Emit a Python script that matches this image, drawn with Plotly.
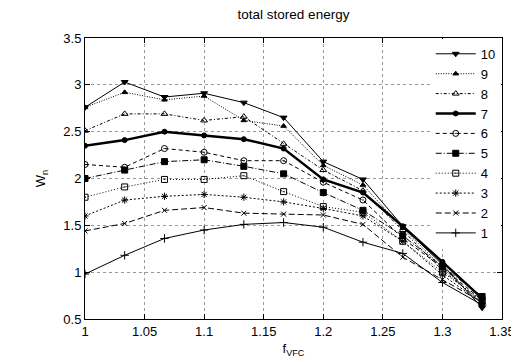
import plotly.graph_objects as go

f_vfc = [1.0, 1.0333, 1.0667, 1.1, 1.1333, 1.1667, 1.2, 1.2333, 1.2667, 1.3, 1.3333]

w1 = [0.98, 1.18, 1.36, 1.45, 1.51, 1.53, 1.48, 1.32, 1.20, 0.89, 0.65]
w2 = [1.44, 1.52, 1.66, 1.69, 1.63, 1.62, 1.61, 1.51, 1.16, 0.92, 0.68]
w3 = [1.60, 1.77, 1.81, 1.83, 1.80, 1.75, 1.68, 1.60, 1.33, 0.97, 0.67]
w4 = [1.80, 1.91, 1.99, 1.99, 2.03, 1.86, 1.70, 1.64, 1.33, 1.00, 0.70]
w5 = [2.00, 2.09, 2.18, 2.20, 2.13, 2.05, 1.85, 1.66, 1.39, 1.06, 0.74]
w6 = [2.15, 2.12, 2.32, 2.28, 2.19, 2.19, 1.96, 1.77, 1.36, 1.05, 0.70]
w7 = [2.35, 2.41, 2.50, 2.46, 2.42, 2.32, 1.99, 1.85, 1.49, 1.11, 0.72]
w8 = [2.51, 2.69, 2.69, 2.62, 2.66, 2.37, 2.09, 1.87, 1.45, 1.02, 0.68]
w9 = [2.76, 2.92, 2.84, 2.88, 2.62, 2.56, 2.14, 1.93, 1.47, 1.05, 0.66]
w10 = [2.76, 3.03, 2.87, 2.91, 2.81, 2.65, 2.18, 1.99, 1.49, 1.08, 0.62]

names = ["1", "2", "3", "4", "5", "6", "7", "8", "9", "10"]
series = [w1, w2, w3, w4, w5, w6, w7, w8, w9, w10]
symbols = ["cross-thin-open", "x-thin-open", "asterisk-open", "square-open-dot",
           "square", "circle-open-dot", "circle", "triangle-up-open",
           "triangle-up", "triangle-down"]
dashes = ["solid", "6px,3px", "2px,2px", "1px,2px", "6px,2px,1px,2px",
          "4px,3px", "solid", "3px,2px,1px,2px", "1px,1.5px", "solid"]
widths = [1, 1, 1, 1, 1, 1, 2.5, 1, 1, 1]
msizes = [6, 5, 6, 6, 6, 6, 5, 6, 5, 6]

fig = go.Figure()
for name, ys, sym, d, w, ms in zip(names, series, symbols, dashes, widths, msizes):
    fig.add_trace(go.Scatter(
        x=f_vfc, y=ys, name=name, mode="lines+markers",
        line=dict(color="black", width=w, dash=d),
        marker=dict(symbol=sym, size=ms, color="black",
                    line=dict(color="black", width=1)),
    ))

axis_common = dict(
    showline=True, linecolor="black", linewidth=1, mirror="ticks",
    ticks="inside", ticklen=5, tickcolor="black",
    showgrid=True, gridcolor="#999999", griddash="dot", gridwidth=1,
    zeroline=False, tickfont=dict(size=13, color="black"),
)

fig.update_layout(
    width=519, height=362,
    margin=dict(l=77, r=15, t=30, b=51),
    paper_bgcolor="white", plot_bgcolor="white",
    font=dict(family="Liberation Sans, Arial, sans-serif", color="black"),
    title=dict(text="total stored energy", xref="paper", x=0.5, xanchor="center",
               yref="container", y=0.997, yanchor="top", font=dict(size=13.5)),
    xaxis=dict(range=[1.0, 1.35], dtick=0.05, tickformat="~g",
               title=dict(text="f<sub>VFC</sub>", font=dict(size=13), standoff=6),
               **axis_common),
    yaxis=dict(range=[0.5, 3.5], dtick=0.5, tickformat="~g",
               title=dict(text="W<sub>n</sub>", font=dict(size=13), standoff=14),
               **axis_common),
    legend=dict(x=0.997, xanchor="right", y=0.997, yanchor="top",
                traceorder="reversed", bgcolor="white", borderwidth=0,
                font=dict(size=13), itemwidth=40, tracegroupgap=0),
    showlegend=True,
)

fig.write_html("out.html")
